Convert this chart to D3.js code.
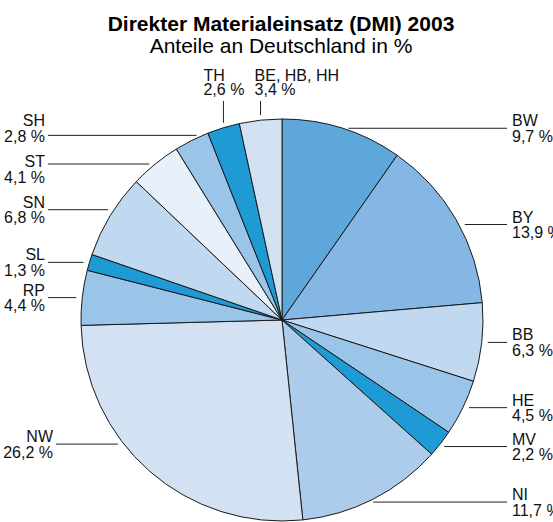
<!DOCTYPE html>
<html>
<head>
<meta charset="utf-8">
<script src="https://cdn.jsdelivr.net/npm/d3@7"></script>
<style>
  html, body { margin: 0; padding: 0; background: #fff; }
  svg { display: block; font-family: "Liberation Sans", Arial, sans-serif; }
</style>
</head>
<body>
<svg id="chart" width="553" height="522"></svg>
<script>
// Anteile am DMI 2003, im Uhrzeigersinn ab 12 Uhr
const regions = ['BW', 'BY', 'BB', 'HE', 'MV', 'NI', 'NW', 'RP', 'SL', 'SN', 'ST', 'SH', 'TH', 'BE, HB, HH'];
const shares  = [9.7, 13.9, 6.3, 4.5, 2.2, 11.7, 26.2, 4.4, 1.3, 6.8, 4.1, 2.8, 2.6, 3.4];
const fills   = ['#5da7db', '#85b7e4', '#c0d8f0', '#9bc4e9', '#1e9bd5', '#adccec', '#d2e2f3',
                 '#9bc4e9', '#1e9bd5', '#c0d8f0', '#e8f0f9', '#9bc4e9', '#1e9bd5', '#d2e2f3'];

// label layout: which side, plus small manual nudges (px) of the leader line / text
const labelSide  = { 'TH': 'top', 'BE, HB, HH': 'top' };
const lineNudge  = { BY: 5, MV: 3, NI: 3, SN: -6, SH: -5, NW: -27 };
const textNudge  = { SH: -7, ST: 5 };

const W = 553, H = 522;
const cx = 282, cy = 320, R = 201;
const fmt = v => v.toFixed(1).replace('.', ',') + ' %';

const svg = d3.select('#chart');

svg.append('text')
  .attr('x', 281).attr('y', 31)
  .attr('text-anchor', 'middle')
  .style('font-size', '21px').style('font-weight', 'bold')
  .text('Direkter Materialeinsatz (DMI) 2003');

svg.append('text')
  .attr('x', 281).attr('y', 53)
  .attr('text-anchor', 'middle')
  .style('font-size', '21px')
  .text('Anteile an Deutschland in %');

const pie = d3.pie().sort(null).value(d => d.v);
const arc = d3.arc().innerRadius(0).outerRadius(R);
const data = pie(regions.map((r, i) => ({ name: r, v: shares[i], fill: fills[i] })));

const g = svg.append('g').attr('transform', `translate(${cx},${cy})`);

g.selectAll('path')
  .data(data)
  .enter().append('path')
  .attr('d', arc)
  .attr('fill', d => d.data.fill)
  .attr('stroke', '#1a1a1a')
  .attr('stroke-width', 1)
  .attr('stroke-linejoin', 'round');

// labels
const labels = svg.append('g').style('font-size', '16px').attr('fill', '#111');
const gap = 6;

data.forEach(d => {
  const name = d.data.name;
  const mid = (d.startAngle + d.endAngle) / 2;
  const side = labelSide[name] || (mid < Math.PI ? 'right' : 'left');

  if (side === 'top') {
    const x = cx + R * Math.sin(mid);
    const yArc = cy - Math.sqrt(R * R - (x - cx) * (x - cx));
    labels.append('line')
      .attr('x1', x).attr('x2', x)
      .attr('y1', 101).attr('y2', yArc - 5)
      .attr('stroke', '#222');
    const tx = name === 'TH' ? x - 20 : x - 6;
    labels.append('text').attr('x', tx).attr('y', 80.5).text(name);
    labels.append('text').attr('x', tx).attr('y', 95).text(fmt(d.data.v));
    return;
  }

  const y = cy - R * Math.cos(mid) + (lineNudge[name] || 0);
  const dx = Math.sqrt(Math.max(0, R * R - (y - cy) * (y - cy)));
  const ty = y + (textNudge[name] || 0);

  if (side === 'right') {
    labels.append('line')
      .attr('x1', cx + dx + gap).attr('x2', 507)
      .attr('y1', y).attr('y2', y)
      .attr('stroke', '#222');
    labels.append('text').attr('x', 512).attr('y', ty - 2).text(name);
    labels.append('text').attr('x', 512).attr('y', ty + 13.5).text(fmt(d.data.v));
  } else {
    const right = name === 'NW' ? 53 : 45;
    labels.append('line')
      .attr('x1', right + 3).attr('x2', cx - dx - gap)
      .attr('y1', y).attr('y2', y)
      .attr('stroke', '#222');
    labels.append('text').attr('x', right).attr('y', ty - 2).attr('text-anchor', 'end').text(name);
    labels.append('text').attr('x', right).attr('y', ty + 13.5).attr('text-anchor', 'end').text(fmt(d.data.v));
  }
});
</script>
</body>
</html>
